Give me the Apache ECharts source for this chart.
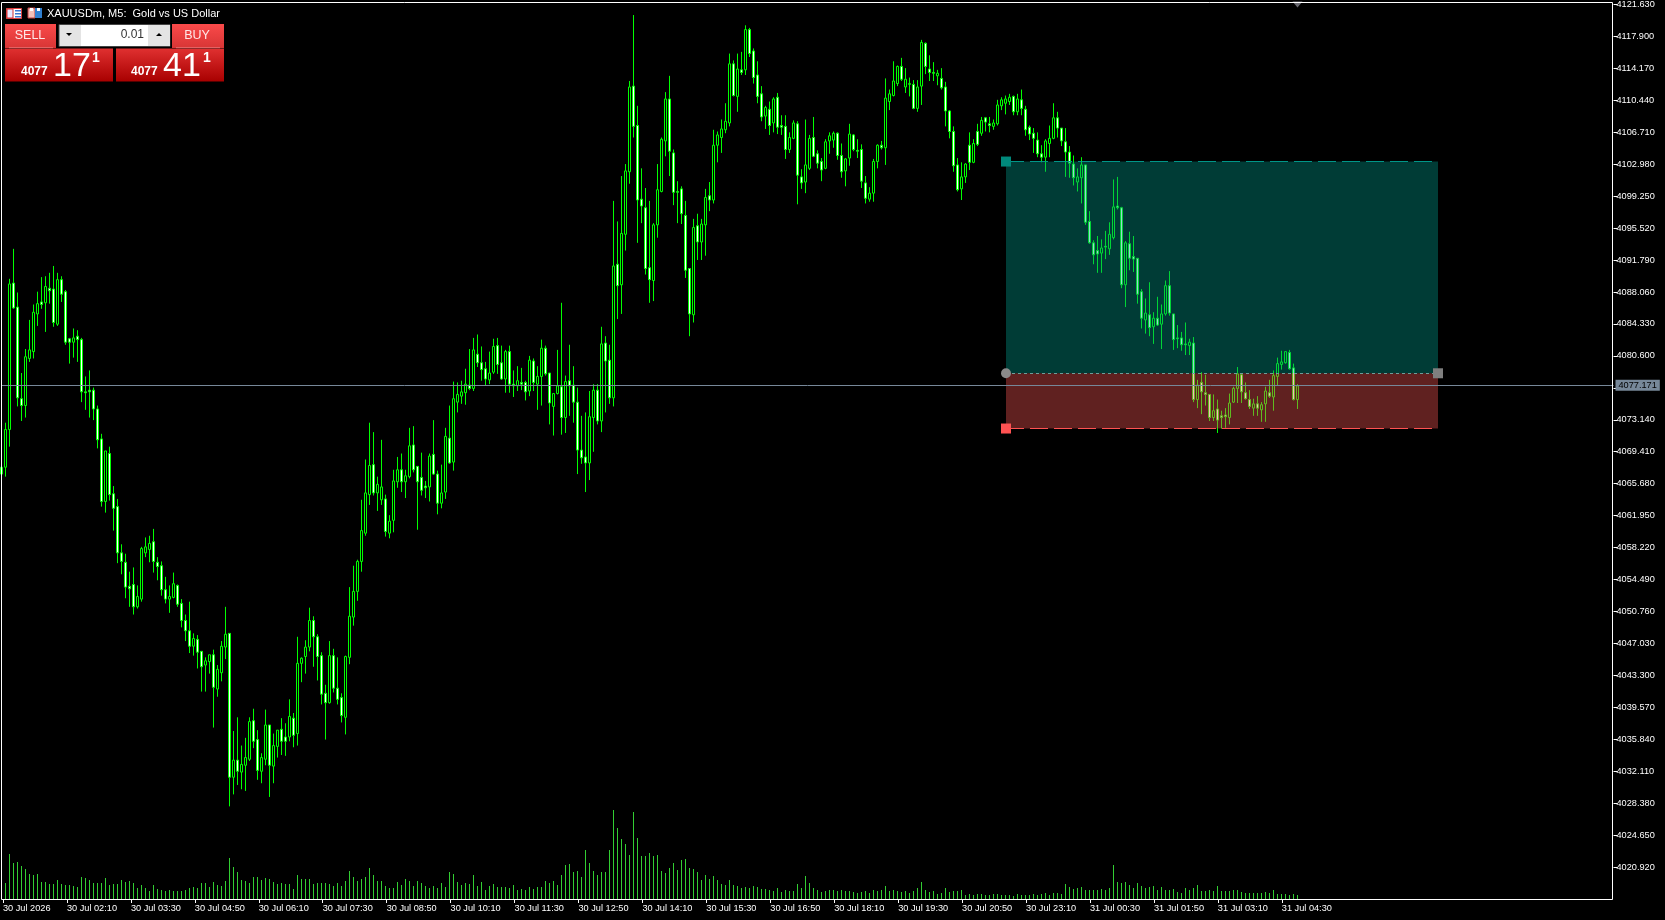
<!DOCTYPE html>
<html><head><meta charset="utf-8">
<style>html,body{margin:0;padding:0;background:#000;overflow:hidden}#c{width:1665px;height:920px}</style>
<script src="https://cdn.jsdelivr.net/npm/echarts@6/dist/echarts.min.js"></script>
</head><body><div id="c"></div>
<script>
// every row: [open, close, low, high]
const CANDLES = [
[4066.8,4067.6,4066.8,4067.6],[4067.6,4072.0,4066.5,4072.8],[4072.0,4089.0,4070.0,4089.6],[4089.1,4086.2,4086.1,4093.1],[4086.3,4075.7,4074.7,4088.0],
[4075.6,4074.8,4073.0,4078.6],[4074.8,4080.5,4073.4,4081.4],[4080.3,4081.3,4079.9,4084.8],[4081.1,4085.7,4080.3,4086.6],[4085.5,4086.7,4084.1,4088.1],
[4086.9,4086.6,4086.1,4089.8],[4086.8,4088.7,4083.4,4089.9],[4088.5,4088.2,4086.7,4090.3],[4088.4,4084.5,4084.0,4091.1],[4084.3,4089.5,4084.1,4090.3],
[4089.5,4087.8,4086.9,4089.9],[4088.1,4082.2,4081.9,4088.3],[4082.6,4082.2,4079.7,4082.7],[4082.2,4082.7,4080.4,4083.8],[4082.9,4082.5,4079.9,4083.6],
[4082.5,4076.4,4075.2,4082.7],[4076.4,4076.3,4074.3,4078.2],[4076.6,4076.4,4073.4,4078.9],[4076.6,4074.4,4073.1,4076.9],[4074.4,4070.8,4069.8,4074.8],
[4070.9,4063.6,4063.0,4071.5],[4063.6,4069.5,4062.3,4069.5],[4069.2,4064.4,4063.7,4070.0],[4064.5,4062.8,4060.2,4065.4],[4063.0,4057.6,4056.4,4063.9],
[4057.6,4056.6,4055.1,4058.6],[4056.5,4053.6,4052.3,4057.5],[4053.7,4053.4,4051.3,4055.4],[4053.9,4051.3,4050.4,4055.9],[4051.3,4052.5,4051.1,4053.8],
[4052.2,4058.1,4051.9,4058.3],[4057.6,4058.3,4057.1,4059.4],[4058.0,4058.7,4056.5,4059.6],[4058.9,4056.6,4055.3,4060.4],[4056.5,4056.0,4054.4,4057.1],
[4056.1,4053.3,4052.6,4056.6],[4053.3,4052.2,4051.7,4054.8],[4052.2,4052.5,4050.6,4053.8],[4052.4,4054.0,4052.3,4055.3],[4053.8,4051.6,4051.3,4053.9],
[4051.7,4049.7,4048.9,4052.2],[4049.7,4048.5,4047.3,4050.4],[4048.5,4046.7,4045.9,4051.9],[4046.7,4047.6,4045.6,4048.2],[4047.5,4046.0,4044.1,4048.0],
[4046.1,4044.3,4041.4,4046.1],[4044.5,4045.0,4041.4,4045.4],[4044.9,4045.7,4043.5,4045.7],[4045.7,4041.9,4037.2,4046.3],[4041.7,4044.0,4040.8,4044.5],
[4043.6,4046.7,4042.6,4047.3],[4046.6,4048.1,4045.2,4051.3],[4048.2,4031.4,4028.0,4048.2],[4031.4,4033.4,4029.4,4036.8],[4033.4,4032.1,4030.5,4038.4],
[4032.0,4032.9,4030.0,4035.1],[4032.8,4033.7,4029.8,4036.0],[4033.5,4037.9,4033.3,4038.4],[4038.0,4035.6,4034.8,4039.4],[4035.8,4032.2,4031.1,4036.9],
[4032.1,4033.7,4030.7,4034.2],[4033.5,4037.5,4032.8,4039.3],[4037.5,4032.8,4029.1,4037.5],[4032.7,4035.1,4030.7,4036.5],[4035.0,4036.9,4033.7,4036.9],
[4037.0,4035.6,4034.0,4038.3],[4036.1,4035.6,4033.9,4037.7],[4036.1,4038.5,4035.6,4040.5],[4038.3,4036.3,4034.9,4038.9],[4036.5,4044.7,4035.1,4047.8],
[4044.7,4045.3,4042.5,4045.4],[4045.5,4046.6,4043.5,4047.4],[4046.6,4049.7,4046.1,4051.2],[4049.7,4047.8,4044.3,4050.2],[4047.8,4045.5,4042.7,4048.1],
[4045.6,4041.1,4039.9,4046.0],[4041.2,4040.1,4035.8,4042.2],[4040.1,4045.6,4040.0,4047.3],[4045.6,4041.8,4041.3,4046.4],[4041.8,4040.5,4039.9,4045.4],
[4040.7,4038.6,4037.8,4041.2],[4038.4,4045.5,4036.4,4045.6],[4045.4,4050.2,4044.6,4053.6],[4050.1,4053.1,4049.1,4056.1],[4053.1,4056.6,4052.0,4056.8],
[4056.6,4060.2,4055.4,4063.8],[4059.9,4064.6,4059.6,4068.5],[4064.4,4067.8,4063.2,4072.8],[4067.9,4064.6,4064.3,4071.7],[4064.6,4065.6,4062.5,4066.5],
[4063.8,4065.3,4063.2,4070.8],[4063.9,4060.1,4059.5,4064.4],[4059.9,4061.3,4059.3,4062.0],[4061.4,4066.0,4060.0,4067.3],[4065.9,4067.3,4065.2,4068.8],
[4067.3,4065.9,4064.7,4069.2],[4065.9,4066.6,4064.0,4067.3],[4066.5,4070.1,4066.3,4072.2],[4070.2,4067.3,4067.0,4072.4],[4067.7,4065.9,4060.3,4067.7],
[4066.4,4064.9,4064.3,4069.3],[4065.4,4065.2,4064.0,4066.0],[4065.3,4068.9,4063.6,4069.2],[4069.1,4066.8,4066.7,4073.1],[4066.8,4063.4,4062.1,4067.2],
[4063.4,4064.6,4062.8,4067.9],[4064.7,4071.2,4063.9,4072.2],[4071.0,4068.1,4068.0,4074.8],[4068.2,4075.6,4067.2,4077.6],[4075.2,4076.1,4074.0,4077.5],
[4075.9,4076.4,4075.0,4077.7],[4076.3,4077.3,4074.9,4079.1],[4077.2,4076.8,4076.6,4081.4],[4076.8,4081.3,4076.5,4082.7],[4080.8,4079.8,4079.3,4083.1],
[4079.8,4079.0,4077.7,4081.7],[4079.1,4077.9,4077.1,4079.9],[4077.8,4078.6,4077.3,4081.1],[4078.7,4081.7,4078.5,4082.6],[4081.8,4079.6,4078.5,4082.7],
[4079.8,4077.9,4077.8,4081.8],[4077.9,4081.1,4076.3,4081.3],[4081.1,4077.3,4076.3,4081.8],[4077.3,4077.1,4075.8,4078.9],[4077.1,4077.7,4076.5,4079.4],
[4077.5,4077.3,4076.6,4079.2],[4077.5,4076.4,4075.4,4077.7],[4076.5,4080.1,4075.9,4080.6],[4080.0,4077.5,4076.5,4080.3],[4077.3,4078.2,4074.3,4079.4],
[4078.2,4081.5,4074.8,4082.5],[4081.5,4078.5,4078.3,4081.8],[4078.6,4075.1,4072.6,4078.6],[4074.7,4076.2,4071.3,4076.2],[4076.2,4077.1,4076.1,4081.3],
[4077.0,4073.4,4071.4,4086.8],[4073.4,4077.6,4071.6,4078.3],[4077.7,4077.1,4073.6,4081.9],[4077.2,4075.2,4072.8,4079.4],[4075.2,4069.6,4066.8,4076.9],
[4069.6,4068.7,4068.0,4073.6],[4068.8,4068.1,4064.7,4074.0],[4068.1,4073.5,4066.1,4076.5],[4073.4,4076.6,4069.4,4077.3],[4076.6,4073.0,4072.6,4077.3],
[4073.0,4082.0,4071.7,4084.0],[4082.1,4080.0,4074.0,4082.9],[4080.1,4075.7,4075.0,4081.9],[4075.7,4091.1,4074.7,4098.7],[4091.3,4088.8,4084.9,4096.3],
[4088.9,4094.9,4085.5,4101.6],[4094.8,4102.2,4092.9,4103.0],[4102.1,4112.0,4100.7,4112.7],[4112.1,4107.4,4106.1,4120.4],[4107.5,4098.8,4093.8,4109.8],
[4098.9,4098.1,4096.1,4102.5],[4097.9,4090.8,4090.1,4100.2],[4090.9,4089.5,4086.8,4098.7],[4089.4,4095.9,4087.0,4096.1],[4095.9,4100.0,4094.4,4103.0],
[4099.8,4105.9,4099.7,4106.1],[4105.7,4110.6,4103.9,4111.4],[4110.6,4104.5,4101.6,4113.3],[4104.3,4099.7,4098.2,4104.7],[4099.8,4099.7,4096.1,4101.0],
[4100.1,4097.2,4096.0,4100.4],[4097.0,4090.6,4089.7,4098.7],[4090.8,4085.5,4082.9,4090.8],[4085.4,4095.6,4084.5,4096.6],[4095.8,4093.9,4091.8,4097.2],
[4093.9,4096.0,4091.8,4096.6],[4095.9,4099.1,4092.3,4100.1],[4099.3,4098.8,4097.5,4100.9],[4098.8,4105.2,4098.4,4107.0],[4105.2,4106.4,4103.2,4106.8],
[4106.1,4107.1,4104.3,4108.2],[4107.0,4108.0,4106.6,4110.1],[4107.8,4114.7,4107.4,4115.9],[4114.7,4111.0,4110.9,4115.1],[4110.9,4114.1,4109.1,4115.9],
[4114.0,4113.7,4113.4,4116.1],[4114.0,4118.7,4113.4,4119.2],[4118.7,4115.9,4115.5,4118.9],[4116.2,4113.1,4112.4,4116.5],[4113.4,4110.9,4110.1,4115.0],
[4111.2,4108.5,4108.0,4112.1],[4108.6,4109.6,4107.1,4109.8],[4109.4,4107.5,4106.4,4110.3],[4107.8,4110.6,4106.7,4110.8],[4110.8,4107.3,4106.5,4111.3],
[4107.5,4107.3,4106.4,4108.7],[4107.4,4104.7,4103.6,4108.7],[4104.7,4106.1,4104.3,4106.7],[4106.0,4107.8,4105.9,4108.1],[4107.7,4101.7,4098.3,4108.0],
[4101.5,4100.8,4100.1,4102.4],[4100.9,4102.9,4099.6,4108.2],[4102.5,4106.0,4102.3,4106.4],[4106.1,4103.9,4103.8,4108.5],[4104.2,4103.1,4102.5,4104.6],
[4103.3,4102.3,4101.0,4103.7],[4102.5,4105.6,4102.4,4105.9],[4105.7,4106.3,4104.2,4106.7],[4105.8,4106.6,4104.9,4106.8],[4106.6,4104.0,4103.5,4106.7],
[4104.0,4102.1,4101.4,4105.4],[4102.2,4103.6,4100.4,4103.7],[4103.7,4106.5,4102.8,4107.7],[4106.4,4104.7,4104.5,4106.5],[4104.6,4104.5,4103.7,4105.9],
[4104.7,4101.0,4100.2,4105.3],[4100.8,4099.0,4098.4,4101.6],[4098.9,4099.6,4098.6,4100.3],[4099.6,4103.3,4098.6,4103.6],[4103.3,4105.2,4102.5,4105.3],
[4105.2,4104.9,4104.7,4105.7],[4104.9,4110.7,4102.9,4113.0],[4110.3,4111.2,4109.3,4111.7],[4111.0,4112.7,4110.9,4115.0],[4112.4,4114.4,4112.1,4114.5],
[4114.4,4112.9,4112.7,4115.4],[4112.0,4112.9,4111.3,4114.2],[4112.3,4112.4,4110.9,4113.1],[4112.3,4109.5,4109.4,4112.8],[4109.5,4112.0,4109.1,4112.8],
[4112.1,4117.2,4109.9,4117.5],[4117.1,4114.4,4113.5,4117.2],[4114.1,4113.7,4112.7,4115.7],[4113.7,4113.6,4112.7,4114.9],[4113.3,4113.6,4112.2,4114.0],
[4113.0,4111.9,4111.7,4114.2],[4112.0,4109.2,4107.4,4112.6],[4109.2,4106.8,4106.0,4109.3],[4106.8,4102.8,4102.1,4107.4],[4102.9,4100.0,4099.8,4103.7],
[4100.1,4101.5,4098.8,4103.2],[4101.5,4103.0,4100.8,4103.1],[4105.2,4103.2,4102.3,4106.7],[4103.2,4105.4,4103.1,4105.9],[4106.8,4105.3,4105.1,4107.7],
[4106.6,4108.1,4106.3,4108.5],[4108.4,4107.9,4106.8,4108.5],[4107.7,4107.5,4106.7,4108.5],[4107.4,4107.8,4107.0,4108.2],[4107.7,4109.9,4107.5,4110.5],
[4109.8,4110.5,4109.3,4110.8],[4110.1,4110.6,4108.8,4111.0],[4110.3,4110.8,4109.9,4111.2],[4110.9,4109.1,4108.7,4111.0],[4109.1,4110.6,4108.7,4111.2],
[4110.5,4109.5,4108.7,4111.7],[4109.4,4107.0,4106.3,4109.8],[4107.3,4106.5,4105.8,4107.5],[4106.6,4106.0,4104.3,4107.2],[4105.8,4104.2,4103.8,4106.7],
[4104.2,4103.8,4103.2,4105.2],[4103.8,4105.7,4102.1,4105.9],[4105.4,4106.0,4103.8,4107.5],[4106.0,4108.4,4105.9,4110.1],[4108.4,4107.2,4106.1,4109.1],
[4107.2,4105.7,4105.1,4107.2],[4105.6,4104.4,4101.5,4107.2],[4104.4,4103.1,4101.4,4105.1],[4103.0,4101.4,4100.5,4104.0],[4100.9,4101.5,4099.8,4102.5],
[4101.4,4102.9,4098.4,4103.8],[4102.9,4096.2,4095.9,4102.9],[4096.3,4093.8,4093.7,4097.5],[4093.8,4092.4,4091.3,4094.1],[4092.9,4092.5,4090.3,4094.6],
[4092.6,4093.2,4090.3,4094.2],[4093.4,4093.3,4091.9,4095.2],[4093.1,4094.8,4092.4,4096.2],[4094.4,4098.0,4094.2,4101.2],[4098.1,4097.9,4097.7,4101.5],
[4097.9,4088.9,4088.5,4098.0],[4088.9,4093.8,4086.3,4094.0],[4093.7,4092.0,4090.6,4095.1],[4092.2,4091.9,4090.4,4094.6],[4092.0,4087.8,4086.7,4092.0],
[4088.1,4085.0,4083.8,4088.4],[4084.8,4085.6,4083.2,4087.3],[4085.4,4083.9,4082.9,4089.2],[4084.0,4085.0,4082.0,4085.7],[4085.0,4084.2,4084.1,4087.5],
[4084.3,4085.5,4081.4,4086.6],[4085.5,4088.8,4085.3,4089.4],[4088.8,4085.6,4085.3,4090.5],[4085.5,4082.5,4081.3,4085.5],[4082.7,4082.6,4081.5,4084.2],
[4082.7,4081.9,4081.2,4083.4],[4082.0,4081.9,4080.7,4084.5],[4081.8,4082.2,4080.7,4082.6],[4082.1,4075.5,4075.2,4082.8],[4075.5,4077.2,4074.5,4077.8],
[4077.5,4076.4,4073.8,4078.7],[4076.3,4076.1,4074.8,4078.4],[4076.1,4073.4,4073.0,4076.1],[4073.4,4074.2,4073.0,4076.1],[4074.4,4073.1,4071.6,4075.5],
[4073.6,4073.4,4072.1,4074.2],[4073.7,4073.5,4072.2,4074.5],[4073.4,4075.1,4072.6,4076.2],[4075.2,4076.8,4075.1,4077.0],[4076.8,4078.5,4075.1,4079.3],
[4078.4,4076.4,4075.1,4078.5],[4076.3,4075.6,4075.5,4077.5],[4075.5,4074.7,4074.4,4076.6],[4074.5,4075.0,4073.6,4075.6],[4075.0,4074.5,4073.6,4075.9],
[4074.3,4074.9,4072.9,4075.2],[4075.0,4076.5,4072.9,4077.0],[4076.3,4075.9,4075.7,4077.8],[4075.8,4078.3,4074.2,4078.9],[4078.2,4079.7,4077.2,4080.4],
[4079.6,4079.9,4079.0,4081.2],[4079.8,4081.1,4079.7,4081.1],[4081.0,4079.1,4079.0,4081.3],[4079.2,4075.5,4075.4,4079.7],[4075.5,4077.1,4074.4,4077.3]
];
const VOLUMES = [
13,16,45,36,37,33,30,25,24,25,17,17,15,15,19,15,14,14,13,12,22,21,19,16,16,16,21,14,15,15,
19,17,18,16,11,14,11,8,14,10,9,8,9,8,8,8,9,11,12,11,16,16,12,17,14,13,18,41,32,27,
19,18,16,22,22,19,21,20,17,15,16,15,15,10,24,20,20,20,15,16,16,16,15,13,16,13,18,28,22,18,
20,22,31,24,18,18,13,11,11,17,14,20,18,13,18,16,13,11,13,11,16,12,27,25,17,14,16,15,24,13,
17,9,13,15,12,12,12,11,14,9,10,9,12,10,12,12,18,16,18,14,24,34,35,27,28,22,49,36,28,24,
27,27,49,89,71,60,55,44,87,61,43,43,46,43,44,28,26,31,36,29,39,40,31,30,27,19,24,20,23,19,
15,14,19,14,13,11,12,11,13,12,10,10,9,8,11,7,9,8,8,15,11,23,16,11,9,7,8,9,9,8,
9,8,8,7,6,7,8,6,9,8,9,13,8,9,8,7,8,6,8,11,17,9,7,8,5,6,11,7,8,8,
9,4,5,4,5,5,4,4,5,5,4,4,4,3,5,4,4,4,5,4,5,6,4,6,6,5,15,12,10,11,
12,9,9,9,9,10,9,11,34,17,16,17,14,11,16,13,11,12,13,9,12,9,9,10,7,6,11,9,11,14,
8,8,9,8,13,8,8,8,9,9,7,6,6,6,6,6,7,6,9,5,5,5,4,5,4
];
const TIME_LABELS = ["30 Jul 2026","30 Jul 02:10","30 Jul 03:30","30 Jul 04:50","30 Jul 06:10","30 Jul 07:30","30 Jul 08:50","30 Jul 10:10","30 Jul 11:30","30 Jul 12:50","30 Jul 14:10","30 Jul 15:30","30 Jul 16:50","30 Jul 18:10","30 Jul 19:30","30 Jul 20:50","30 Jul 23:10","31 Jul 00:30","31 Jul 01:50","31 Jul 03:10","31 Jul 04:30"];
const BARS_PER_LABEL = 16;
const SLOT_COUNT = 404;           // chart slots, including the empty space to the right
const PRICE_MIN = 4020.92, PRICE_MAX = 4121.63, PRICE_STEP = 3.73;
const LAST_PRICE = 4077.171;
const TARGET_PRICE = 4103.15, ENTRY_PRICE = 4078.47, STOP_PRICE = 4072.03;
const BOX_START = 251, BOX_END = 359;

const categories = Array.from({length: SLOT_COUNT}, (_, i) =>
  (i % BARS_PER_LABEL === 0 && TIME_LABELS[i / BARS_PER_LABEL]) || '');

const FONT = 'Liberation Sans';
const AXIS_TEXT = {color: '#fff', fontFamily: FONT, fontSize: 9.2};
const grad = (a, b) => ({type: 'linear', x: 0, y: 0, x2: 0, y2: 1, colorStops: [{offset: 0, color: a}, {offset: 1, color: b}]});
const box = (x, y, w, h, fill, stroke) => ({type: 'rect', silent: true, z: 100, shape: {x, y, width: w, height: h}, style: {fill: fill || 'none', stroke: stroke || 'none', lineWidth: 1}});
const txt = (x, y, text, size, fill, align, weight) => ({type: 'text', silent: true, z: 101, x, y, style: {text, fontSize: size, fill: fill || '#fff', fontFamily: FONT, align: align || 'left', verticalAlign: 'middle', fontWeight: weight || 'normal'}});
const tri = (pts, fill) => ({type: 'polygon', silent: true, z: 102, shape: {points: pts}, style: {fill}});

const panel = [
  // window icons
  box(6.5, 8.5, 15, 10, '#fff', '#e04040'), box(7, 9, 6, 9, '#e8e8ff', '#d03030'), box(15, 10, 6, 1.5, '#3a78d0'), box(15, 13, 6, 1.5, '#3a78d0'), box(15, 16, 6, 1.5, '#3a78d0'),
  box(28, 8, 7, 10, '#f4c0b8', '#c04040'), box(35, 8, 7, 10, '#2f7fd0'), box(30, 8, 3, 3, '#fff'), box(37, 8, 3, 3, '#fff'),
  txt(47, 13.5, 'XAUUSDm, M5:  Gold vs US Dollar', 11),
  // trade panel
  box(5, 24, 51, 24, grad('#fa4a4a', '#d83535')), box(172, 24, 52, 24, grad('#fa4a4a', '#d83535')),
  box(9, 47.5, 44, 0.8, '#f09090'), box(176, 47.5, 44, 0.8, '#f09090'),
  box(5, 48.5, 108, 33, grad('#e03030', '#a80000')), box(116, 48.5, 108, 33, grad('#e03030', '#a80000')),
  box(59, 24.5, 111, 22, '#f2f2f2', '#444'), box(81, 25, 67, 21, '#fff'),
  box(60, 25, 21, 21, '#e4e4e4'), box(148, 25, 22, 21, '#e4e4e4'),
  tri([[66, 33], [72, 33], [69, 36]], '#000'), tri([[156, 36], [162, 36], [159, 33]], '#000'),
  txt(30, 35.5, 'SELL', 12.5, '#ffe8e8', 'center'), txt(197, 35.5, 'BUY', 12.5, '#ffe8e8', 'center'),
  txt(144, 35, '0.01', 12, '#333', 'right'),
  txt(21, 71.5, '4077', 12, '#fff', 'left', 'bold'), txt(53, 67, '17', 34), txt(92, 58.5, '1', 14, '#fff', 'left', 'bold'),
  txt(131, 71.5, '4077', 12, '#fff', 'left', 'bold'), txt(163, 67, '41', 34), txt(203, 58.5, '1', 14, '#fff', 'left', 'bold'),
  // chart frame
  box(1.5, 2.5, 1611, 897, 'none', '#fff')
];

const chart = echarts.init(document.getElementById('c'), null, {renderer: 'canvas'});
chart.setOption({
  backgroundColor: '#000',
  animation: false,
  graphic: {elements: panel},
  grid: [
    {left: 1.5, top: 3, width: 1612, height: 864},
    {left: 3.5, top: 799, width: 1612, height: 100},   // volume bars, first bar sits under the frame line
    {left: 2, top: 3, width: 1612, height: 864},
    {left: 1.5, top: 799, width: 1612, height: 100}    // time ticks and labels
  ],
  xAxis: [
    {type: 'category', gridIndex: 0, data: categories, boundaryGap: false, show: false},
    {type: 'category', gridIndex: 1, data: categories.slice(1), boundaryGap: true, show: false},
    {type: 'category', gridIndex: 2, data: categories, boundaryGap: false, show: false},
    {type: 'category', gridIndex: 3, data: categories, boundaryGap: false,
      axisLine: {show: false},
      axisTick: {length: 4, interval: i => categories[i] !== '', lineStyle: {color: '#fff'}},
      axisLabel: Object.assign({}, AXIS_TEXT, {interval: i => categories[i] !== '', align: 'left', margin: 5, hideOverlap: false})}
  ],
  yAxis: [
    {type: 'value', gridIndex: 0, position: 'right', min: PRICE_MIN, max: PRICE_MAX, interval: PRICE_STEP, scale: true,
      splitLine: {show: false}, axisLine: {show: false},
      axisTick: {show: true, length: 4, lineStyle: {color: '#fff'}},
      axisLabel: Object.assign({}, AXIS_TEXT, {margin: 3, formatter: v => v.toFixed(3)})},
    {type: 'value', gridIndex: 1, min: 0, max: 100, show: false},
    {type: 'value', gridIndex: 2, min: PRICE_MIN, max: PRICE_MAX, show: false},
    {type: 'value', gridIndex: 3, min: 0, max: 100, show: false}
  ],
  series: [
    {type: 'candlestick', xAxisIndex: 0, yAxisIndex: 0, data: CANDLES, barWidth: 2, clip: false, silent: true,
      itemStyle: {color: '#000', color0: '#fff', borderColor: '#00ff00', borderColor0: '#00ff00', borderColorDoji: '#00ff00', borderWidth: 1},
      markLine: {silent: true, z: 6, symbol: 'none', data: [
        [{coord: [0, LAST_PRICE], lineStyle: {color: '#778899', type: 'solid', width: 1},
          label: {show: true, position: 'end', distance: 2, formatter: () => LAST_PRICE.toFixed(3), color: '#000', backgroundColor: '#778899', padding: [1, 3, 1, 3], fontFamily: FONT, fontSize: 9.2}},
         {coord: [SLOT_COUNT - 1, LAST_PRICE]}]
      ]},
      markPoint: {silent: true, z: 7, label: {show: false}, data: [
        {coord: [CANDLES.length - 1, PRICE_MAX], symbol: 'triangle', symbolRotate: 180, symbolSize: [10, 6], itemStyle: {color: '#6a6a72'}}
      ]}
    },
    {type: 'bar', xAxisIndex: 1, yAxisIndex: 1, data: VOLUMES.slice(1), barWidth: 1, silent: true, clip: false, itemStyle: {color: '#32cd32'}},
    {type: 'line', xAxisIndex: 2, yAxisIndex: 2, data: [], silent: true, z: 5,
      markArea: {silent: true, z: 5, data: [
        [{coord: [BOX_START, TARGET_PRICE], itemStyle: {color: 'rgba(0,150,136,0.4)'}}, {coord: [BOX_END, ENTRY_PRICE]}],
        [{coord: [BOX_START, ENTRY_PRICE], itemStyle: {color: 'rgba(239,83,80,0.4)'}}, {coord: [BOX_END, STOP_PRICE]}]
      ]},
      markLine: {silent: true, z: 6, symbol: 'none', data: [
        [{coord: [BOX_START, TARGET_PRICE], lineStyle: {color: '#009688', type: [18, 6], width: 1}, label: {show: false}}, {coord: [BOX_END, TARGET_PRICE]}],
        [{coord: [BOX_START, STOP_PRICE], lineStyle: {color: '#ff5252', type: [18, 6], width: 1}, label: {show: false}}, {coord: [BOX_END, STOP_PRICE]}],
        [{coord: [BOX_START, ENTRY_PRICE], lineStyle: {color: '#6e9f9a', type: [3, 3], width: 1}, label: {show: false}}, {coord: [BOX_END, ENTRY_PRICE]}]
      ]},
      markPoint: {silent: true, z: 7, label: {show: false}, data: [
        {coord: [BOX_START, TARGET_PRICE], symbol: 'rect', symbolSize: 10, itemStyle: {color: '#00897b'}},
        {coord: [BOX_START, STOP_PRICE], symbol: 'rect', symbolSize: 10, itemStyle: {color: '#ff5252'}},
        {coord: [BOX_START, ENTRY_PRICE], symbol: 'circle', symbolSize: 10, itemStyle: {color: '#8a8a8a'}},
        {coord: [BOX_END, ENTRY_PRICE], symbol: 'rect', symbolSize: 10, itemStyle: {color: '#7f7f7f'}}
      ]}
    }
  ]
});
</script></body></html>
